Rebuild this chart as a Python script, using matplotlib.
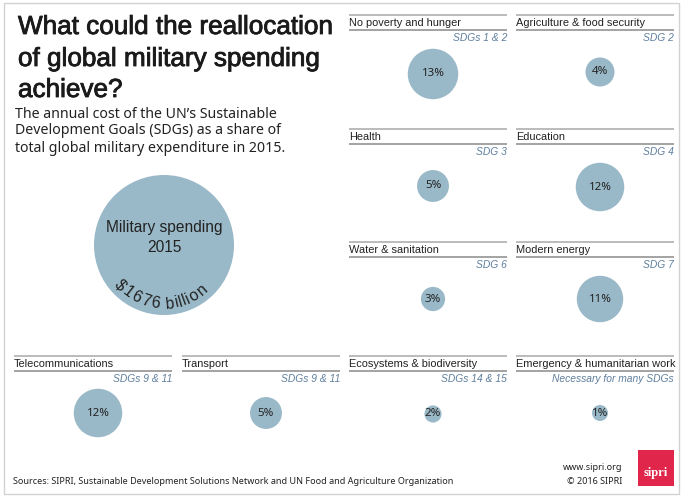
import math
import matplotlib
matplotlib.use("Agg")
import matplotlib.pyplot as plt
import matplotlib.patheffects as pe
from matplotlib.patches import Circle, Rectangle

# ---- data ----
panel_names = ["No poverty and hunger", "Agriculture & food security", "Health", "Education",
               "Water & sanitation", "Modern energy", "Telecommunications", "Transport",
               "Ecosystems & biodiversity", "Emergency & humanitarian work"]
panel_goals = ["SDGs 1 & 2", "SDG 2", "SDG 3", "SDG 4", "SDG 6", "SDG 7",
               "SDGs 9 & 11", "SDGs 9 & 11", "SDGs 14 & 15", "Necessary for many SDGs"]
share_labels = ["13%", "4%", "5%", "12%", "3%", "11%", "12%", "5%", "2%", "1%"]
share_values = [13, 4.3, 5.2, 12, 3, 11, 12, 5.2, 1.5, 1.3]
military_value = 100
military_title = "Military spending\n2015"
military_amount = "$1676 billion"
title_lines = ["What could the reallocation", "of global military spending", "achieve?"]
subtitle_lines = ["The annual cost of the UN’s Sustainable",
                  "Development Goals (SDGs) as a share of",
                  "total global military expenditure in 2015."]
source_text = "Sources: SIPRI, Sustainable Development Solutions Network and UN Food and Agriculture Organization"

# ---- layout (pixels) ----
W, H = 689, 497
col_left = {"c3": 349, "c4": 516, "c1": 14, "c2": 182}
panel_cols = ["c3", "c4", "c3", "c4", "c3", "c4", "c1", "c2", "c3", "c4"]
panel_tops = [15, 15, 129, 129, 242, 242, 356, 356, 356, 356]
circle_dy = [59, 57, 57, 58, 57, 57, 57, 57, 58, 57]
panel_w = 158
big_xy, big_r = (164, 245), 70
k = big_r / math.sqrt(military_value)

CIRC = "#9AB9C8"
GOAL = "#5E7E9E"
DARK = "#222222"
LINE = "#8A8A8A"
BODY = "Liberation Sans"
HUM = "Noto Sans"

fig = plt.figure(figsize=(W / 100, H / 100), dpi=100, facecolor="white")
ax = fig.add_axes([0, 0, 1, 1])
ax.set_xlim(0, W)
ax.set_ylim(H, 0)
ax.axis("off")

ax.add_patch(Rectangle((4, 3), 675, 491, fill=False, ec="#D2D2D2", lw=1))

for line, y in zip(title_lines, [27, 59, 90]):
    ax.text(18, y, line, fontsize=18.8, family="Liberation Sans",
            color="#1a1a1a", va="center", ha="left",
            path_effects=[pe.withStroke(linewidth=0.6, foreground="#1a1a1a")])
for line, y in zip(subtitle_lines, [115, 131, 148]):
    ax.text(15, y, line, fontsize=10.2, family=HUM, color=DARK, va="center", ha="left")

# big circle
ax.add_patch(Circle(big_xy, big_r, fc=CIRC, ec="none"))
ax.text(big_xy[0], 237.5, military_title, fontsize=11.2, family=BODY, color=DARK,
        ha="center", va="center", linespacing=1.45)

# curved amount label
fig.canvas.draw()
rend = fig.canvas.get_renderer()
R_text = 59
fs = 11.5
spread = 1.12
arc_shift = -0.06
def char_w(c):
    t = ax.text(0, 0, c, fontsize=fs, family=BODY)
    w = t.get_window_extent(rend).width
    t.remove()
    return w
widths = [char_w(c) if c != " " else 4 for c in military_amount]
total = sum(widths) * spread
pos = -total / 2
for c, w in zip(military_amount, widths):
    s = pos + w * spread / 2
    a = s / R_text + arc_shift
    x = big_xy[0] + R_text * math.sin(a)
    y = big_xy[1] + R_text * math.cos(a)
    ax.text(x, y, c, fontsize=fs, family=BODY, color=DARK, ha="center", va="center",
            rotation=math.degrees(a), rotation_mode="anchor")
    pos += w * spread

# panels
for name, goal, lab, val, col, top, dy in zip(panel_names, panel_goals, share_labels,
                                              share_values, panel_cols, panel_tops, circle_dy):
    x0 = col_left[col]
    x1 = x0 + panel_w
    cx = x0 + 84
    ax.plot([x0, x1], [top, top], color="#A8A8A8", lw=1.1, solid_capstyle="butt")
    ax.plot([x0, x1], [top + 15, top + 15], color=LINE, lw=1.1, solid_capstyle="butt")
    ax.text(x0, top + 8, name, fontsize=7.9, family=BODY, color=DARK, ha="left", va="center")
    ax.text(x1, top + 23, goal, fontsize=7.4, family=BODY, style="italic", color=GOAL,
            ha="right", va="center")
    ax.add_patch(Circle((cx, top + dy), k * math.sqrt(val), fc=CIRC, ec="none"))
    ax.text(cx, top + dy, lab, fontsize=8.3, family=HUM, color=DARK, ha="center", va="center")

# footer
ax.text(13, 481, source_text, fontsize=6.5, family=HUM, color=DARK, ha="left", va="center")
ax.text(622, 467, "www.sipri.org", fontsize=6.5, family=HUM, color=DARK, ha="right", va="center")
ax.text(622, 481, "© 2016 SIPRI", fontsize=6.5, family=HUM, color=DARK, ha="right", va="center")
ax.add_patch(Rectangle((638, 450), 36, 36, fc="#E0264A", ec="none"))
ax.text(656, 473, "sipri", fontsize=9, family="Liberation Serif", weight="bold",
        color="white", ha="center", va="center")

fig.savefig("out.png", dpi=100)
